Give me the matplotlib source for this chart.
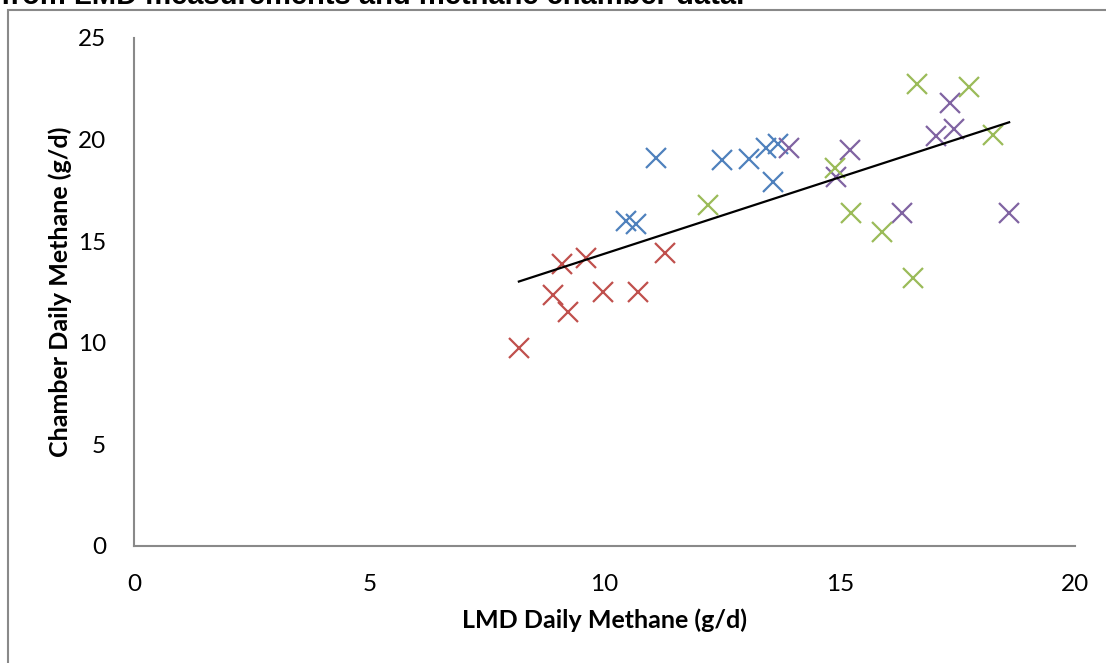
import numpy as np
import matplotlib
matplotlib.use("Agg")
import matplotlib.pyplot as plt
from matplotlib.patches import Rectangle

# Data (LMD vs chamber daily methane, g/d), four groups
red_x = [8.18, 8.91, 9.10, 9.22, 9.61, 9.97, 10.71, 11.29]
red_y = [9.74, 12.35, 13.88, 11.52, 14.17, 12.50, 12.50, 14.42]
blue_x = [10.46, 10.67, 11.09, 12.50, 13.07, 13.43, 13.69, 13.58]
blue_y = [15.99, 15.85, 19.09, 19.00, 19.05, 19.59, 19.78, 17.91]
purple_x = [13.92, 15.22, 14.92, 16.32, 17.05, 17.43, 17.34, 18.60]
purple_y = [19.59, 19.49, 18.16, 16.39, 20.18, 20.52, 21.80, 16.39]
green_x = [12.20, 14.90, 15.24, 15.90, 16.64, 17.75, 18.26, 16.56]
green_y = [16.78, 18.60, 16.39, 15.45, 22.74, 22.59, 20.23, 13.19]

x_ticks = [0, 5, 10, 15, 20]
y_ticks = [0, 5, 10, 15, 20, 25]

title = "from LMD measurements and methane chamber data."
xlabel = "LMD Daily Methane (g/d)"
ylabel = "Chamber Daily Methane (g/d)"

W, H = 1106, 663
fig = plt.figure(figsize=(W / 100, H / 100), dpi=100)

ax = fig.add_axes([134 / W, 1 - 546 / H, (1075 - 134) / W, (546 - 38) / H])

groups = [
    (red_x, red_y, "#C0504D"),
    (blue_x, blue_y, "#4F81BD"),
    (purple_x, purple_y, "#8064A2"),
    (green_x, green_y, "#9BBB59"),
]
for gx, gy, c in groups:
    ax.plot(gx, gy, linestyle="none", marker="x", markersize=14,
            markeredgewidth=1.6, color=c, zorder=3)

all_x = np.array(red_x + blue_x + purple_x + green_x)
all_y = np.array(red_y + blue_y + purple_y + green_y)
slope, intercept = np.polyfit(all_x, all_y, 1)
lx = np.array([all_x.min(), all_x.max()])
ax.plot(lx, slope * lx + intercept, color="black", lw=1.6, zorder=4)

ax.set_xlim(0, 20)
ax.set_ylim(0, 25)
ax.set_xticks(x_ticks)
ax.set_yticks(y_ticks)
ax.tick_params(length=0, labelsize=17.5, pad=20)
for lab in ax.get_xticklabels() + ax.get_yticklabels():
    lab.set_family("Lato")
for s in ["top", "right"]:
    ax.spines[s].set_visible(False)
for s in ["left", "bottom"]:
    ax.spines[s].set_color("#898989")
    ax.spines[s].set_linewidth(1.5)

fig.text(605 / W, 1 - 620 / H, xlabel, ha="center", va="center",
         fontsize=18, fontweight="bold", family="Lato")
fig.text(60 / W, 1 - 292 / H, ylabel, ha="center", va="center",
         rotation=90, fontsize=18, fontweight="bold", family="Lato")

fig.text(1 / W, 1 - 4 / H, title, ha="left", va="baseline",
         fontsize=21, fontweight="bold", family="Liberation Sans")

fig.add_artist(Rectangle((8 / W, -0.1), 1.2, 1 - 10 / H + 0.1,
                         transform=fig.transFigure, fill=False,
                         edgecolor="#898989", lw=1.5))

fig.savefig("out.png", dpi=100)
